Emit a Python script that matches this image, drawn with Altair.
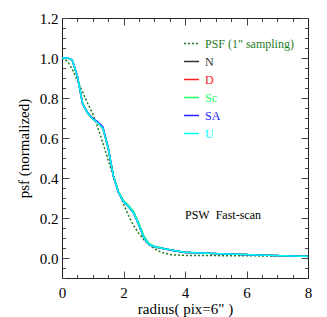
import altair as alt
import pandas as pd

# ---------------- data ----------------
series_order = ["PSF (1\" sampling)", "N", "D", "Sc", "SA", "U"]
series_colors = ["#1f7a1f", "#333333", "#ff2020", "#22ff66", "#2222ff", "#00ffff"]
series_dash = [[2, 2], [1, 0], [1, 0], [1, 0], [1, 0], [1, 0]]

psf_radius = [0.0, 0.17, 0.33, 0.5, 0.67, 0.83, 1.0, 1.17, 1.33, 1.5, 1.67, 1.83, 2.0,
              2.17, 2.33, 2.5, 2.67, 2.83, 3.0, 3.17, 3.33, 3.5, 3.67, 4.0, 5.0, 6.0, 7.0, 8.0]
psf_vals = [1.0, 0.985, 0.945, 0.89, 0.83, 0.775, 0.72, 0.65, 0.575, 0.49, 0.41, 0.335, 0.27,
            0.21, 0.162, 0.122, 0.09, 0.066, 0.047, 0.033, 0.024, 0.018, 0.015, 0.013, 0.012,
            0.011, 0.01, 0.009]

radius = [0.0, 0.17, 0.33, 0.5, 0.67, 0.83, 1.0, 1.17, 1.33, 1.5, 1.67, 1.83, 2.0, 2.17,
          2.33, 2.5, 2.67, 2.83, 3.0, 3.33, 3.67, 4.0, 4.5, 5.0, 6.0, 7.0, 8.0]
n_vals = [1.0, 1.0, 0.99, 0.91, 0.77, 0.725, 0.695, 0.675, 0.648, 0.55, 0.41, 0.33, 0.283,
          0.255, 0.225, 0.165, 0.098, 0.068, 0.056, 0.046, 0.036, 0.028, 0.025, 0.022, 0.017,
          0.012, 0.008]
d_vals = [1.0, 1.0, 0.99, 0.91, 0.77, 0.725, 0.695, 0.675, 0.648, 0.55, 0.41, 0.33, 0.283,
          0.255, 0.225, 0.165, 0.098, 0.068, 0.056, 0.046, 0.036, 0.028, 0.025, 0.022, 0.017,
          0.012, 0.008]
sc_vals = [1.0, 1.0, 0.99, 0.91, 0.775, 0.728, 0.697, 0.677, 0.65, 0.555, 0.415, 0.335, 0.288,
           0.262, 0.233, 0.176, 0.108, 0.073, 0.059, 0.048, 0.037, 0.029, 0.026, 0.022, 0.017,
           0.012, 0.008]
sa_vals = [1.0, 1.0, 0.99, 0.91, 0.77, 0.727, 0.698, 0.68, 0.656, 0.553, 0.41, 0.33, 0.283,
           0.255, 0.225, 0.165, 0.098, 0.068, 0.056, 0.046, 0.036, 0.028, 0.025, 0.022, 0.017,
           0.012, 0.008]
u_vals = [1.0, 1.0, 0.99, 0.91, 0.77, 0.725, 0.695, 0.675, 0.648, 0.55, 0.41, 0.33, 0.283,
          0.255, 0.225, 0.165, 0.098, 0.068, 0.056, 0.046, 0.036, 0.028, 0.025, 0.022, 0.017,
          0.012, 0.008]

x_ticks = [0, 0.5, 1, 1.5, 2, 2.5, 3, 3.5, 4, 4.5, 5, 5.5, 6, 6.5, 7, 7.5, 8]
y_ticks = [-0.1, -0.05, 0.0, 0.05, 0.1, 0.15, 0.2, 0.25, 0.3, 0.35, 0.4, 0.45, 0.5, 0.55,
           0.6, 0.65, 0.7, 0.75, 0.8, 0.85, 0.9, 0.95, 1.0, 1.05, 1.1, 1.15, 1.2]

note_text = ["PSW\u00a0 Fast-scan"]
note_x = [4.0]
note_y = [0.215]

# ---------------- tables ----------------
rows = []
for name, xs_, ys_ in [(series_order[0], psf_radius, psf_vals),
                       ("N", radius, n_vals), ("D", radius, d_vals),
                       ("Sc", radius, sc_vals), ("SA", radius, sa_vals),
                       ("U", radius, u_vals)]:
    for i, (xv, yv) in enumerate(zip(xs_, ys_)):
        rows.append({"series": name, "radius": xv, "psf": yv, "idx": i})
df = pd.DataFrame(rows)
note_df = pd.DataFrame({"x": note_x, "y": note_y, "text": note_text})

FONT = "Liberation Serif"
W, H = 246, 260
X_DOM = [0, 8]
Y_DOM = [-0.1, 1.2]
y_major = "abs(datum.value*5-round(datum.value*5))<0.001"
x_major = "abs(datum.value/2-round(datum.value/2))<0.001"
TICK = "#444444"


def tick_axis(orient, values, test, offset, domain):
    return alt.Axis(orient=orient, values=values, offset=offset, labels=False, title=None,
                    ticks=True, tickSize=7, tickColor=TICK, tickWidth=1,
                    tickDash={"condition": {"test": test, "value": [7, 0]}, "value": [3.5, 20]},
                    domain=domain, domainColor="#222222", grid=False)


common = dict(domainColor="#222222", ticks=False, grid=False,
              labelFont=FONT, labelFontSize=15, labelColor="black",
              titleFont=FONT, titleFontSize=15, titleFontWeight="normal",
              titleColor="black", labelOverlap=False, labelFlush=False)

x_bottom = alt.Axis(orient="bottom", values=x_ticks, labelPadding=7,
                    labelExpr=f"{x_major} ? format(datum.value,'d') : ''",
                    title="radius( pix=6\" )", titlePadding=1, **common)
y_left = alt.Axis(orient="left", values=y_ticks, labelPadding=4,
                  labelExpr=f"{y_major} ? format(datum.value,'.1f') : ''",
                  title="psf (normalized)", titlePadding=8, **common)

legend = alt.Legend(title=None, orient="none", legendX=121, legendY=17,
                    symbolType="stroke", symbolSize=225, symbolStrokeWidth=1.5,
                    labelFont=FONT, labelFontSize=12, labelOffset=5, rowPadding=3,
                    padding=0, labelColor=alt.ExprRef(expr="scale('color', datum.value)"))


def xs(axis, field="x"):
    return alt.X(f"{field}:Q", scale=alt.Scale(domain=X_DOM, nice=False, zero=False), axis=axis)


def ys(axis, field="y"):
    return alt.Y(f"{field}:Q", scale=alt.Scale(domain=Y_DOM, nice=False, zero=False), axis=axis)


lines = alt.Chart(df).mark_line(strokeWidth=1.5, clip=True).encode(
    x=xs(x_bottom, "radius"),
    y=ys(y_left, "psf"),
    color=alt.Color("series:N", scale=alt.Scale(domain=series_order, range=series_colors),
                    legend=legend, sort=series_order),
    strokeDash=alt.StrokeDash("series:N", scale=alt.Scale(domain=series_order, range=series_dash),
                              legend=legend, sort=series_order),
    order=alt.Order("idx:Q"),
)

# inward ticks on the bottom and left edges
note = alt.Chart(note_df).mark_text(align="left", baseline="middle", font=FONT,
                                    fontSize=12, color="black").encode(
    x=xs(tick_axis("top", x_ticks, x_major, -H, False)),
    y=ys(tick_axis("right", y_ticks, y_major, -W, False)),
    text="text:N",
)

# inward ticks on the top and right edges, with the frame lines
frame = alt.Chart(note_df).mark_text(opacity=0).encode(
    x=xs(tick_axis("bottom", x_ticks, x_major, -H, True)),
    y=ys(tick_axis("left", y_ticks, y_major, -W, True)),
    text="text:N",
)

chart = alt.layer(lines, note, frame).resolve_scale(x="independent", y="independent").properties(
    width=W, height=H,
    autosize=alt.AutoSizeParams(type="none"),
    padding={"left": 54, "top": 10, "right": 10, "bottom": 39},
).configure_view(stroke=None)

chart.save("out.html", embed_options={"renderer": "svg", "actions": False})
